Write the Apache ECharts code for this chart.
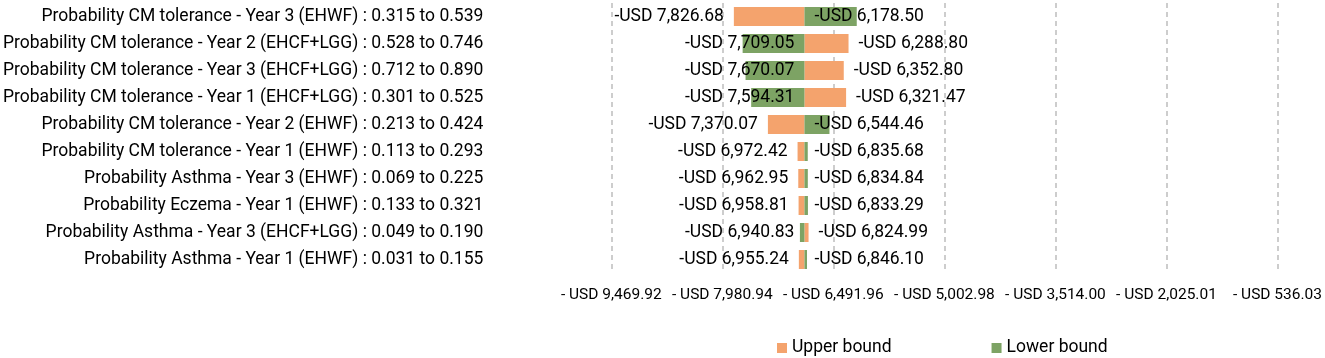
<!DOCTYPE html>
<html>
<head>
<meta charset="utf-8">
<script src="https://cdn.jsdelivr.net/npm/echarts@6/dist/echarts.min.js"></script>
<style>
  html, body { margin: 0; padding: 0; background: #fff; }
  #tornado { width: 1325px; height: 358px; }
</style>
</head>
<body>
<div id="tornado"></div>
<script>
// one-way sensitivity, top row first
var categories = [
  "Probability CM tolerance - Year 3 (EHWF) : 0.315 to 0.539",
  "Probability CM tolerance - Year 2 (EHCF+LGG) : 0.528 to 0.746",
  "Probability CM tolerance - Year 3 (EHCF+LGG) : 0.712 to 0.890",
  "Probability CM tolerance - Year 1 (EHCF+LGG) : 0.301 to 0.525",
  "Probability CM tolerance - Year 2 (EHWF) : 0.213 to 0.424",
  "Probability CM tolerance - Year 1 (EHWF) : 0.113 to 0.293",
  "Probability Asthma - Year 3 (EHWF) : 0.069 to 0.225",
  "Probability Eczema - Year 1 (EHWF) : 0.133 to 0.321",
  "Probability Asthma - Year 3 (EHCF+LGG) : 0.049 to 0.190",
  "Probability Asthma - Year 1 (EHWF) : 0.031 to 0.155"
];
var upperBound = [-7826.68, -6288.80, -6352.80, -6321.47, -7370.07, -6972.42, -6962.95, -6958.81, -6824.99, -6955.24];
var lowerBound = [-6178.50, -7709.05, -7670.07, -7594.31, -6544.46, -6835.68, -6834.84, -6833.29, -6940.83, -6846.10];
var baseCase = -6880;
var tickValues = [-9469.92, -7980.94, -6491.96, -5002.98, -3514.00, -2025.01, -536.03];

var ORANGE = "#F4A36D";
var GREEN = "#7DA364";
var FONT = "Roboto";

function usd(v, sep) {
  return "-USD" + sep + Math.abs(v).toLocaleString("en-US", { minimumFractionDigits: 2, maximumFractionDigits: 2 });
}

// invisible part of the stack: from 0 to the end nearer zero
function hiddenPart(vals) {
  return vals.map(function (v) { return Math.max(v, baseCase); });
}

// visible part: between the base case and the bound
function shownPart(vals, outside) {
  return vals.map(function (v) {
    var left = v < baseCase;
    var pos;
    if (outside) pos = left ? "left" : "right";
    else pos = left ? "insideRight" : "insideLeft";
    return {
      value: Math.min(v, baseCase) - Math.max(v, baseCase),
      label: { position: pos }
    };
  });
}

var chart = echarts.init(document.getElementById("tornado"));
var option = {
  animation: false,
  textStyle: { fontFamily: FONT },
  grid: { left: 611, right: 39, top: 3, bottom: 85 },
  legend: {
    data: ["Upper bound", "Lower bound"],
    left: 772,
    top: 334,
    icon: "rect",
    itemWidth: 10,
    itemHeight: 10,
    itemGap: 100,
    textStyle: { fontSize: 17.5, color: "#000", fontFamily: FONT }
  },
  xAxis: {
    type: "value",
    min: tickValues[0],
    max: tickValues[tickValues.length - 1],
    axisLine: { show: false },
    axisTick: { show: false, customValues: tickValues },
    axisLabel: {
      customValues: tickValues,
      margin: 14,
      fontSize: 15.5,
      color: "#000",
      formatter: function (v) {
        return "- USD " + Math.abs(v).toLocaleString("en-US", { minimumFractionDigits: 2, maximumFractionDigits: 2 });
      }
    },
    splitLine: {
      show: true,
      lineStyle: { color: "#BDBDBD", width: 1.5, type: [5, 4] }
    }
  },
  yAxis: {
    type: "category",
    inverse: true,
    data: categories,
    axisLine: { show: false },
    axisTick: { show: false },
    axisLabel: { margin: 128, fontSize: 17.5, color: "#000" }
  },
  series: [
    {
      name: "hiddenUpper",
      type: "bar",
      stack: "upper",
      barWidth: 19,
      silent: true,
      itemStyle: { color: "transparent" },
      data: hiddenPart(upperBound)
    },
    {
      name: "Upper bound",
      type: "bar",
      stack: "upper",
      barWidth: 19,
      itemStyle: { color: ORANGE },
      label: {
        show: true,
        distance: 10,
        fontSize: 17.5,
        color: "#000",
        formatter: function (p) { return usd(upperBound[p.dataIndex], " "); }
      },
      data: shownPart(upperBound, true)
    },
    {
      name: "hiddenLower",
      type: "bar",
      stack: "lower",
      barWidth: 19,
      barGap: "-100%",
      silent: true,
      itemStyle: { color: "transparent" },
      data: hiddenPart(lowerBound)
    },
    {
      name: "Lower bound",
      type: "bar",
      stack: "lower",
      barWidth: 19,
      barGap: "-100%",
      itemStyle: { color: GREEN },
      label: {
        show: true,
        distance: 10,
        fontSize: 17.5,
        color: "#000",
        formatter: function (p) { return usd(lowerBound[p.dataIndex], " "); }
      },
      data: shownPart(lowerBound, false)
    }
  ]
};
chart.setOption(option);
window.addEventListener("resize", function () {
  chart.resize();
});
</script>
</body>
</html>
